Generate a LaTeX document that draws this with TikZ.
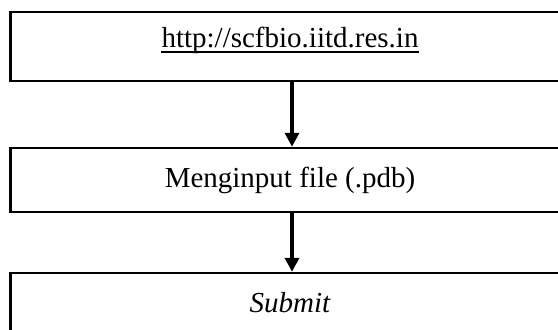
\documentclass[tikz,border=0pt]{standalone}
\usepackage{fontspec}
\setmainfont{Liberation Serif}
\usetikzlibrary{arrows.meta}
\tikzset{
  box/.style={draw, line width=2.5bp, minimum width=559bp, inner sep=0pt},
  txt/.style={anchor=base, inner sep=0pt, font=\fontsize{29bp}{34bp}\selectfont},
  arr/.style={line width=4bp, -{Triangle[width=14bp,length=14bp]}}
}
\begin{document}
\begin{tikzpicture}[x=1bp,y=-1bp]
    \useasboundingbox (0,0) rectangle (558,329);
    \clip (0,0) rectangle (558,329);
    \begin{scope}
      \node[box, minimum height=69bp] (url)    at (290,46.5) {};
      \node[box, minimum height=64bp] (input)  at (290,180)  {};
      \node[box, minimum height=70bp] (submit) at (290,308)  {};
      \node[txt] (urltxt)    at (290,47)  {http://scfbio.iitd.res.in};
      \node[txt] (inputtxt)  at (290,187) {Menginput file (.pdb)};
      \node[txt] (submittxt) at (290,312) {\itshape Submit};
      \draw[line width=1.5bp] ([yshift=-5bp]urltxt.base west) -- ([yshift=-5bp]urltxt.base east);
      \draw[arr] ([xshift=2bp]url.south -| urltxt) -- ([xshift=2bp]input.north -| inputtxt);
      \draw[arr] ([xshift=2bp]input.south -| inputtxt) -- ([xshift=2bp]submit.north -| submittxt);
    \end{scope}
  \end{tikzpicture}
\end{document}
